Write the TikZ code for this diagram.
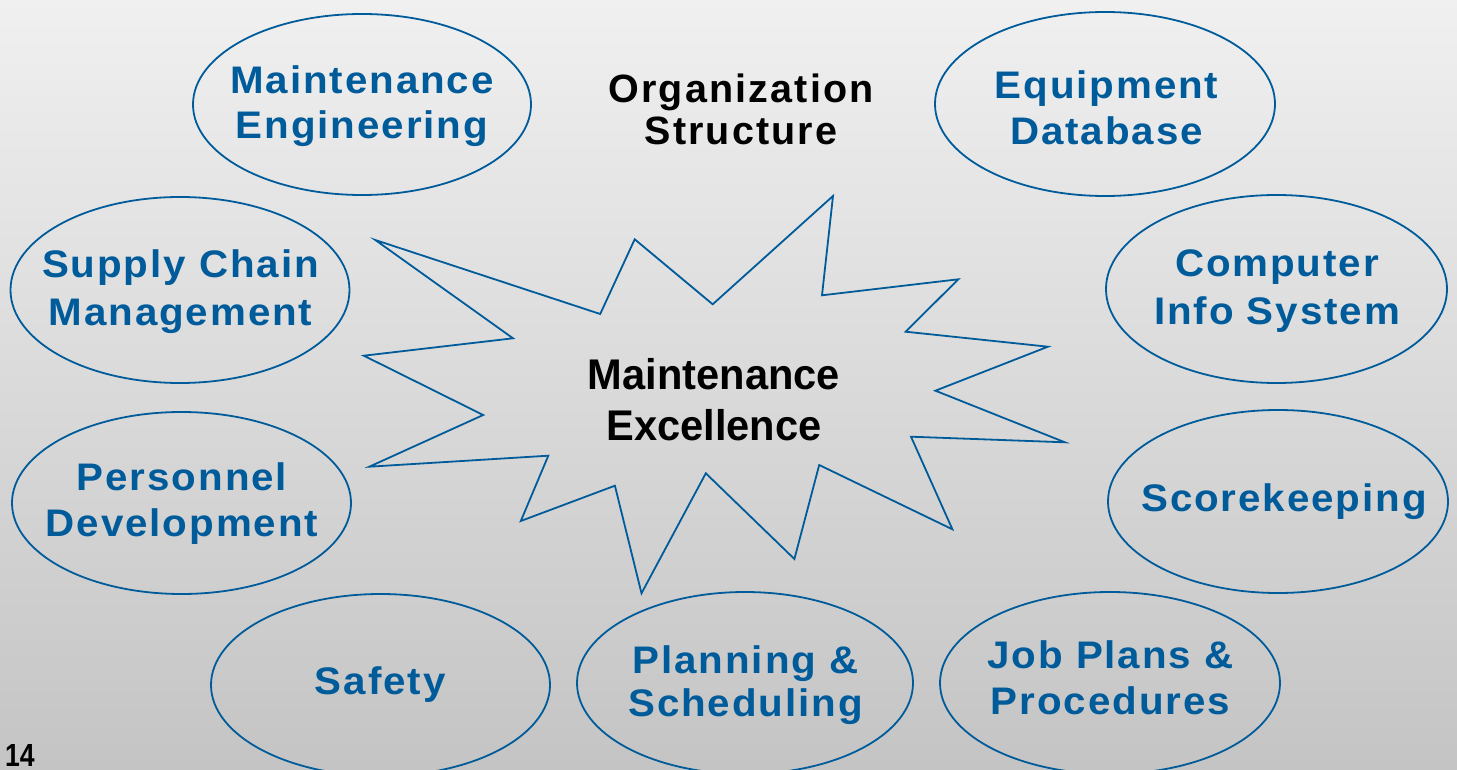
\documentclass[tikz,border=0pt]{standalone}
\usepackage{fontspec}
\setmainfont{Liberation Sans}
\newfontface\bluefont{Liberation Sans Bold}[LetterSpace=5,FakeStretch=1.05]
\newfontface\orgfont{Liberation Sans Bold}[LetterSpace=5.5]
\newfontface\starfont{Liberation Sans Bold}[FakeStretch=0.97]
\newfontface\numfont{Liberation Sans Bold}[FakeStretch=0.83]
\usetikzlibrary{shapes.geometric}
\definecolor{mblue}{RGB}{0,91,154}
\definecolor{bgtop}{RGB}{240,240,240}
\definecolor{bgbot}{RGB}{196,196,196}
\begin{document}
\begin{tikzpicture}[x=1pt,y=-1pt,
  oval/.style={ellipse,draw=mblue,line width=1.8pt,inner sep=0pt},
  bluetxt/.style={text=mblue,align=center,inner sep=0pt,font=\bluefont\fontsize{38.4}{46}\selectfont},
  blacktxt/.style={text=black,align=center,inner sep=0pt},
  starline/.style={draw=mblue,line width=1.8pt}]
\useasboundingbox (0,0) rectangle (1457,770);
\shade[top color=bgtop,bottom color=bgbot] (0,0) rectangle (1457,770);

% ellipses
\node[oval,minimum width=338pt,minimum height=181pt] (e1) at (362,104.5) {};
\node[oval,minimum width=340pt,minimum height=184pt] (e2) at (1105,104) {};
\node[oval,minimum width=339pt,minimum height=186pt] (e3) at (180,290) {};
\node[oval,minimum width=341pt,minimum height=188pt] (e4) at (1276.5,289) {};
\node[oval,minimum width=339pt,minimum height=182pt] (e5) at (181.5,503) {};
\node[oval,minimum width=340pt,minimum height=183pt] (e6) at (1278,501.5) {};
\node[oval,minimum width=339pt,minimum height=182pt] (e7) at (380.5,685) {};
\node[oval,minimum width=336pt,minimum height=182pt] (e8) at (745,683) {};
\node[oval,minimum width=340pt,minimum height=182pt] (e9) at (1110,683) {};

% ellipse texts
\node[bluetxt] (t1) at (362,105.8) {Maintenance\\[-1pt]Engineering};
\node[bluetxt] (t2) at (1106.5,107.6) {Equipment\\Database};
\node[bluetxt] (t3) at (180.5,291.5) {Supply Chain\\[1.7pt]Management};
\node[bluetxt] (t4) at (1277,291.3) {Computer\\[2pt]Info System};
\node[bluetxt] (t5) at (182,504) {Personnel\\Development};
\node[bluetxt] (t6) at (1284,502) {Scorekeeping};
\node[bluetxt] (t7) at (380.3,684.6) {Safety};
\node[bluetxt] (t8) at (745.5,685.3) {Planning \&\\[-2.7pt]Scheduling};
\node[bluetxt] (t9) at (1110.5,677.6) {Job Plans \&\\Procedures};

% organization structure
\node[blacktxt,font=\orgfont\fontsize{39.5}{42.3}\selectfont] (org) at (741,109.7) {Organization\\Structure};

% starburst
\draw[starline] (375.3,240) -- (600.2,314) -- (634.7,239.3) -- (712.7,304.3)
  -- (833,196) -- (822,295.3) -- (958.3,279.3) -- (905.6,331.7)
  -- (1047.9,346.7) -- (935.4,390.7) -- (1064.9,442.3) -- (911,436.7)
  -- (952.4,529.3) -- (819.2,465) -- (794.4,559) -- (705.8,473.3)
  -- (641.5,593.3) -- (614.9,485.7) -- (520.8,521) -- (548.3,455.7)
  -- (369.3,466.7) -- (483.2,415) -- (363.8,355.7) -- (513,338.3) -- cycle;
\node[blacktxt,font=\starfont\fontsize{42.9}{51}\selectfont] (me) at (714,399.2) {Maintenance\\Excellence};

% page number
\node[inner sep=0pt,anchor=base west,text depth=0pt,font=\numfont\fontsize{32}{36}\selectfont] (pg) at (5,766) {14};
\end{tikzpicture}
\end{document}
